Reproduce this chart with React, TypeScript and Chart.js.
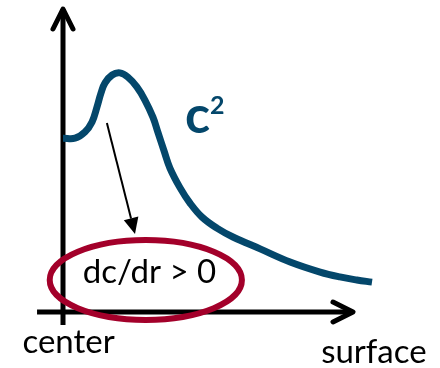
import React, { useEffect, useRef } from "react";
import { Chart, registerables } from "chart.js";
Chart.register(...registerables);

// Curve (normalised units: radius 0..100 from center to surface, concentration 0..100)
const radius = [0, 3.9, 7.1, 9.4, 11.0, 12.3, 13.6, 15.9, 18.4, 21.0, 23.9, 26.5, 29.1, 30.7, 32.7, 34.6, 37.9, 41.1, 45.0, 49.8, 55.0, 63.8, 73.5, 83.2, 89.6, 95.1, 100];
const concentration = [57.0, 57.0, 59.0, 62.3, 67.2, 71.8, 75.1, 77.7, 78.4, 77.0, 73.8, 69.5, 63.9, 59.0, 52.8, 47.2, 40.7, 35.7, 31.1, 27.5, 24.6, 20.7, 16.4, 13.1, 11.5, 10.5, 9.8];

// Axis extents (data units)
const xAxisRange = [-8.4, 94.5];
const yAxisRange = [-4.3, 100];

// Annotation anchors (data units)
const arrowFrom = [14.2, 62.0];
const arrowTo = [23.3, 25.6];
const ellipseCenter = [26.8, 10.5];
const ellipseRadii = [31.1, 13.1];

const labelTexts = ["center", "surface", "dc/dr > 0"];
const labelX = [1.8, 100.6, 28.0];
const labelY = [-13.4, -16.7, 9.5];

const seriesName = "c";
const seriesSup = "2";
const seriesLabelPos = [39.5, 58.7];

const CURVE = "#04476b";
const RED = "#a3002a";
const FONT = "Lato, 'Open Sans', sans-serif";

const overlay = {
  id: "overlay",
  beforeDatasetsDraw(chart: any) {
    const ctx = chart.ctx;
    const xs = chart.scales.x;
    const ys = chart.scales.y;
    const px = (v: number) => xs.getPixelForValue(v);
    const py = (v: number) => ys.getPixelForValue(v);
    ctx.save();
    ctx.strokeStyle = "#000";
    ctx.lineWidth = 5;
    ctx.lineCap = "butt";
    ctx.lineJoin = "round";
    // y axis
    const x0 = px(0);
    const y0 = py(0);
    ctx.beginPath();
    ctx.moveTo(x0, py(yAxisRange[0]));
    ctx.lineTo(x0, py(yAxisRange[1]) + 2);
    ctx.stroke();
    const yt = py(yAxisRange[1]);
    ctx.lineCap = "round";
    ctx.beginPath();
    ctx.moveTo(x0 - 10, yt + 22);
    ctx.lineTo(x0, yt + 2);
    ctx.lineTo(x0 + 10, yt + 22);
    ctx.stroke();
    // x axis
    ctx.lineCap = "butt";
    ctx.beginPath();
    ctx.moveTo(px(xAxisRange[0]), y0);
    ctx.lineTo(px(xAxisRange[1]) - 2, y0);
    ctx.stroke();
    const xt = px(xAxisRange[1]);
    ctx.lineCap = "round";
    ctx.beginPath();
    ctx.moveTo(xt - 22, y0 - 10);
    ctx.lineTo(xt - 2, y0);
    ctx.lineTo(xt - 22, y0 + 10);
    ctx.stroke();
    ctx.restore();
  },
  afterDatasetsDraw(chart: any) {
    const ctx = chart.ctx;
    const xs = chart.scales.x;
    const ys = chart.scales.y;
    const px = (v: number) => xs.getPixelForValue(v);
    const py = (v: number) => ys.getPixelForValue(v);
    ctx.save();
    // arrow
    const ax1 = px(arrowFrom[0]), ay1 = py(arrowFrom[1]);
    const ax2 = px(arrowTo[0]), ay2 = py(arrowTo[1]);
    const ang = Math.atan2(ay2 - ay1, ax2 - ax1);
    const hl = 16, hw = 7.5;
    const bx = ax2 - hl * Math.cos(ang), by = ay2 - hl * Math.sin(ang);
    ctx.strokeStyle = "#000";
    ctx.fillStyle = "#000";
    ctx.lineWidth = 2;
    ctx.beginPath();
    ctx.moveTo(ax1, ay1);
    ctx.lineTo(bx, by);
    ctx.stroke();
    ctx.beginPath();
    ctx.moveTo(ax2, ay2);
    ctx.lineTo(bx + hw * Math.sin(ang), by - hw * Math.cos(ang));
    ctx.lineTo(bx - hw * Math.sin(ang), by + hw * Math.cos(ang));
    ctx.closePath();
    ctx.fill();
    // ellipse
    const ecx = px(ellipseCenter[0]), ecy = py(ellipseCenter[1]);
    const erx = px(ellipseCenter[0] + ellipseRadii[0]) - ecx;
    const ery = ecy - py(ellipseCenter[1] + ellipseRadii[1]);
    ctx.strokeStyle = RED;
    ctx.lineWidth = 6;
    ctx.beginPath();
    ctx.ellipse(ecx, ecy, erx, ery, 0, 0, Math.PI * 2);
    ctx.stroke();
    // labels
    ctx.fillStyle = "#000";
    ctx.textAlign = "center";
    ctx.textBaseline = "alphabetic";
    const sizes = [33, 33, 33];
    labelTexts.forEach((t, i) => {
      ctx.font = `${sizes[i]}px ${FONT}`;
      ctx.fillText(t, px(labelX[i]), py(labelY[i]));
    });
    // c^2
    ctx.fillStyle = CURVE;
    ctx.textAlign = "left";
    ctx.font = `bold 52px ${FONT}`;
    const cx = px(seriesLabelPos[0]), cy = py(seriesLabelPos[1]);
    ctx.fillText(seriesName, cx, cy);
    const w = ctx.measureText(seriesName).width;
    ctx.font = `bold 25px ${FONT}`;
    ctx.fillText(seriesSup, cx + w, cy - 19);
    ctx.restore();
  },
};

export default function App() {
  const ref = useRef<HTMLCanvasElement>(null);
  useEffect(() => {
    document.body.style.margin = "0";
    const chart = new Chart(ref.current!, {
      type: "line",
      data: {
        datasets: [
          {
            label: "c²",
            data: radius.map((r, i) => ({ x: r, y: concentration[i] })),
            borderColor: CURVE,
            borderWidth: 7,
            pointRadius: 0,
            tension: 0.4,
            borderCapStyle: "butt",
            borderJoinStyle: "round",
            fill: false,
            clip: false as any,
          },
        ],
      },
      options: {
        animation: false,
        responsive: true,
        maintainAspectRatio: false,
        events: [],
        layout: { padding: { left: 63, right: 68, top: 7, bottom: 56 } },
        scales: {
          x: { type: "linear", min: 0, max: 100, display: false },
          y: { type: "linear", min: 0, max: 100, display: false },
        },
        plugins: { legend: { display: false }, tooltip: { enabled: false } },
      },
      plugins: [overlay],
    });
    return () => chart.destroy();
  }, []);
  return (
    <div style={{ position: "absolute", left: 0, top: 0, width: 440, height: 368, background: "#fff" }}>
      <canvas ref={ref} />
    </div>
  );
}
